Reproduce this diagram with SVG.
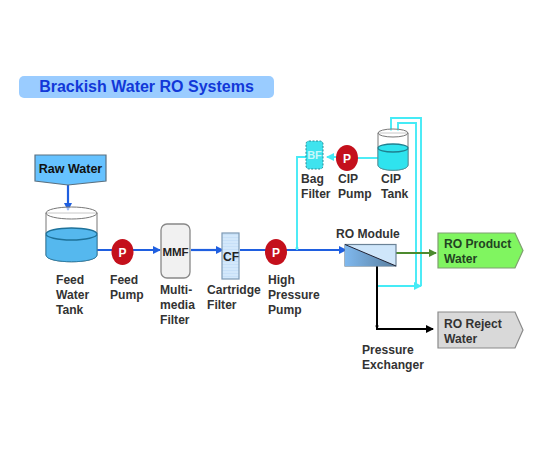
<svg xmlns="http://www.w3.org/2000/svg" width="550" height="449" viewBox="0 0 550 449">
<style>
text{font-family:"Liberation Sans",Arial,sans-serif;font-weight:700;font-size:12.100px;fill:#333}
.b{fill:none;stroke:#1f5fe0;stroke-width:2.200}
.c{fill:none;stroke:#45ebf6;stroke-width:1.900}
.pc{fill:#c4101c}
.pt{fill:#fff;font-size:12px;text-anchor:middle}
</style>
<defs>
<linearGradient id="ro" x1="0" y1="0" x2="1" y2="0"><stop offset="0" stop-color="#7fb8ee"/><stop offset="1" stop-color="#5a7f9f"/></linearGradient>
<pattern id="cf" width="3" height="3" patternUnits="userSpaceOnUse"><rect width="3" height="3" fill="#d3e8fb"/><path d="M0 0H3" stroke="#bcd9f5" stroke-width="1"/></pattern>
<marker id="mb" markerUnits="userSpaceOnUse" markerWidth="8" markerHeight="8" refX="7" refY="4" orient="auto"><path d="M0 0L8 4L0 8z" fill="#1f5fe0"/></marker>
<marker id="mc" markerUnits="userSpaceOnUse" markerWidth="8" markerHeight="8" refX="7" refY="4" orient="auto"><path d="M0 0L8 4L0 8z" fill="#45ebf6"/></marker>
<marker id="mg" markerUnits="userSpaceOnUse" markerWidth="8" markerHeight="8" refX="7" refY="4" orient="auto"><path d="M0 0L8 4L0 8z" fill="#4c8a2e"/></marker>
<marker id="mk" markerUnits="userSpaceOnUse" markerWidth="8" markerHeight="8" refX="7" refY="4" orient="auto"><path d="M0 0L8 4L0 8z" fill="#000"/></marker>
</defs>
<rect width="550" height="449" fill="#fff"/>
<g id="title"><rect x="19" y="76" width="255" height="22" rx="5" fill="#9accff"/><text x="146.500" y="91.500" text-anchor="middle" style="font-size:16px;fill:#1238d8">Brackish Water RO Systems</text></g>
<g id="connectors">
<path class="b" d="M68 185V210" marker-end="url(#mb)"/>
<path class="b" d="M96 250H160" marker-end="url(#mb)"/>
<path class="b" d="M191 250H223" marker-end="url(#mb)"/>
<path class="b" d="M240 250H346" marker-end="url(#mb)"/>
<path class="c" d="M297 250V157H306"/>
<path class="c" d="M379 158H357"/>
<path class="c" d="M337 157H327" marker-end="url(#mc)"/>
<path class="c" d="M391 131V118H421V286"/>
<path class="c" d="M398 131V123H416V286"/>
<path class="c" d="M377 286H421" marker-end="url(#mc)"/>
<path fill="none" stroke="#4c8a2e" stroke-width="2.200" d="M396 253H436" marker-end="url(#mg)"/>
<path fill="none" stroke="#000" stroke-width="2" d="M377 266V329H433" marker-end="url(#mk)"/>
<circle cx="377" cy="326" r="1.500" fill="#000"/><circle cx="297" cy="248" r="1.500" fill="#45ebf6"/>
</g>
<g id="raw-water"><path d="M35 155H106V181L68 185L35 181z" fill="#66c2ff" stroke="#5a7080" stroke-width="1.200"/><text x="70.500" y="172.500" text-anchor="middle" style="fill:#111;font-size:12.500px">Raw Water</text></g>
<g id="feed-tank"><path d="M46 213V255C46 264 97 264 97 255V213z" fill="#fff" stroke="#777"/><path d="M46 235V255C46 264 97 264 97 255V235z" fill="#55b8ee" stroke="#2d7fa8"/><ellipse cx="71.500" cy="234" rx="25.500" ry="6" fill="#55b8ee" stroke="#1e7199" stroke-width="1.300"/><ellipse cx="71.500" cy="213" rx="25.500" ry="6" fill="#fff" fill-opacity=".6" stroke="#777"/><text x="56" y="283.500">Feed</text><text x="56" y="298.500">Water</text><text x="56" y="313.500">Tank</text></g>
<g id="feed-pump"><ellipse class="pc" cx="122.500" cy="252" rx="11" ry="13"/><text class="pt" x="122.500" y="256.500">P</text><text x="110" y="283.500">Feed</text><text x="110" y="298.500">Pump</text></g>
<g id="mmf"><rect x="161" y="224" width="29" height="54" rx="6" fill="#f1f1f1" stroke="#888" stroke-width="1.300"/><text x="175.500" y="256" text-anchor="middle" style="fill:#222;font-size:11.500px">MMF</text><text x="160" y="293.500">Multi-</text><text x="160" y="308.500">media</text><text x="160" y="323.500">Filter</text></g>
<g id="cf-filter"><rect x="222" y="233" width="17" height="46" fill="url(#cf)" stroke="#7d99b5" stroke-width="1.200"/><text x="231" y="260.500" text-anchor="middle" style="fill:#222">CF</text><text x="207" y="293.500">Cartridge</text><text x="207" y="308.500">Filter</text></g>
<g id="hp-pump"><ellipse class="pc" cx="276" cy="252" rx="11" ry="13"/><text class="pt" x="276" y="256.500">P</text><text x="268" y="283.500">High</text><text x="268" y="298.500">Pressure</text><text x="268" y="313.500">Pump</text></g>
<g id="ro-module"><rect x="345" y="244.500" width="51" height="21.500" fill="#cfe6fa" stroke="#6b8296" stroke-width="1.200"/><path d="M345 244.500L396 266H345z" fill="url(#ro)"/><path d="M345 244.500L396 266" stroke="#223" stroke-width="1"/><text x="336" y="237.500">RO Module</text></g>
<g id="bag-filter"><rect x="306" y="141" width="17" height="28" rx="3" fill="#3fe3ee" stroke="#2a8a95" stroke-dasharray="2 1.500"/><text x="314.500" y="159" text-anchor="middle" style="fill:#c8f8fa;font-size:11px">BF</text><text x="301" y="182.500">Bag</text><text x="301" y="197.500">Filter</text></g>
<g id="cip-pump"><ellipse class="pc" cx="347" cy="158" rx="11" ry="13"/><text class="pt" x="347" y="162.500">P</text><text x="338" y="182.500">CIP</text><text x="338" y="197.500">Pump</text></g>
<g id="cip-tank"><path d="M378 133V165C378 172 408 172 408 165V133z" fill="#fff" stroke="#777"/><path d="M378 149V165C378 172 408 172 408 165V149z" fill="#2fe3ee" stroke="#4a9aa5"/><ellipse cx="393" cy="148" rx="15" ry="4" fill="#2fe3ee" stroke="#1f8090" stroke-width="1.300"/><ellipse cx="393" cy="133" rx="15" ry="4" fill="#fff" fill-opacity=".6" stroke="#777"/><text x="381" y="182.500">CIP</text><text x="381" y="197.500">Tank</text></g>
<g id="ro-product"><path d="M438 233H515L523 250.500L515 268H438z" fill="#80f560" stroke="#7f9f70" stroke-width="1.200"/><text x="444" y="247.500" style="fill:#224422">RO Product</text><text x="444" y="262.500" style="fill:#224422">Water</text></g>
<g id="ro-reject"><path d="M438 312H515L523 330L515 348H438z" fill="#d9d9d9" stroke="#8a8a8a" stroke-width="1.200"/><text x="444" y="327.500">RO Reject</text><text x="444" y="342.500">Water</text></g>
<g id="pressure-exchanger"><text x="362" y="353.500">Pressure</text><text x="362" y="368.500">Exchanger</text></g>
</svg>
